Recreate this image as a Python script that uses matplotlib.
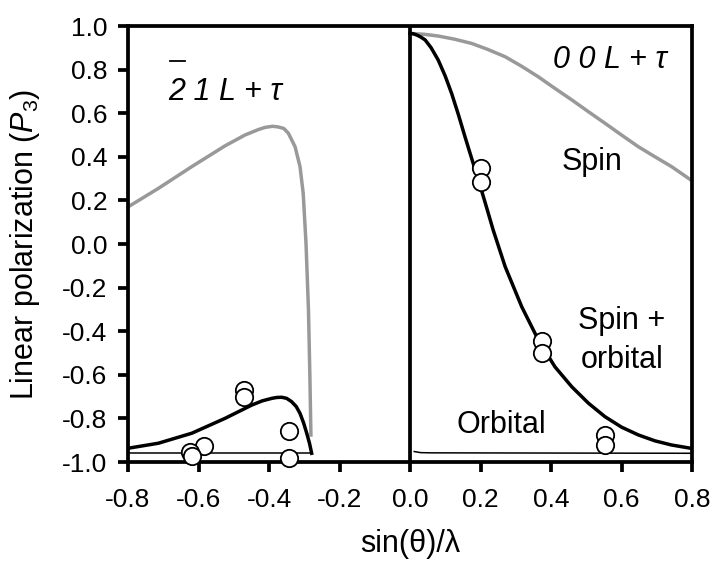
import numpy as np
import matplotlib
matplotlib.use("Agg")
import matplotlib.pyplot as plt
from matplotlib.transforms import offset_copy

plt.rcParams['font.family'] = ['Liberation Sans', 'DejaVu Sans']
plt.rcParams['mathtext.fontset'] = 'custom'
plt.rcParams['mathtext.rm'] = 'Liberation Sans'
plt.rcParams['mathtext.it'] = 'Liberation Sans:italic'
plt.rcParams['axes.unicode_minus'] = False

# -2 1 L + tau reflection (negative side)
left_spin_x = [-0.8, -0.714, -0.619, -0.525, -0.468, -0.43, -0.411, -0.39, -0.374, -0.358, -0.345, -0.326,
               -0.312, -0.303, -0.295, -0.288, -0.284, -0.281]
left_spin_y = [0.17, 0.255, 0.355, 0.45, 0.50, 0.525, 0.535, 0.54, 0.537, 0.53, 0.508, 0.446,
               0.355, 0.233, 0.003, -0.303, -0.609, -0.884]

left_so_x = [-0.8, -0.714, -0.619, -0.525, -0.449, -0.42, -0.392, -0.378, -0.364, -0.35, -0.336, -0.323,
             -0.312, -0.302, -0.293, -0.285, -0.279]
left_so_y = [-0.937, -0.914, -0.868, -0.80, -0.739, -0.72, -0.708, -0.704, -0.703, -0.708, -0.723, -0.745,
             -0.777, -0.82, -0.868, -0.915, -0.96]

left_orb_x = [-0.8, -0.279]
left_orb_y = [-0.96, -0.96]

left_pts_x = [-0.47, -0.47, -0.584, -0.624, -0.619, -0.343, -0.343]
left_pts_y = [-0.67, -0.703, -0.927, -0.953, -0.972, -0.858, -0.983]

# 0 0 L + tau reflection (positive side)
right_spin_x = [0.0, 0.04, 0.08, 0.125, 0.175, 0.22, 0.27, 0.317, 0.364, 0.41, 0.459, 0.506, 0.553, 0.6,
                0.648, 0.695, 0.742, 0.8]
right_spin_y = [0.966, 0.962, 0.954, 0.94, 0.92, 0.893, 0.859, 0.815, 0.767, 0.715, 0.661, 0.607, 0.554,
                0.50, 0.446, 0.40, 0.355, 0.29]

right_so_x = [0.0, 0.01, 0.02, 0.03, 0.043, 0.06, 0.08, 0.1, 0.118, 0.137, 0.156, 0.175, 0.194, 0.215, 0.236,
              0.27, 0.317, 0.364, 0.411, 0.459, 0.506, 0.553, 0.6, 0.648, 0.695, 0.742, 0.8]
right_so_y = [0.966, 0.964, 0.958, 0.95, 0.936, 0.9, 0.844, 0.77, 0.691, 0.595, 0.492, 0.392, 0.294, 0.18, 0.064,
              -0.104, -0.288, -0.44, -0.563, -0.655, -0.73, -0.792, -0.84, -0.876, -0.903, -0.922, -0.938]

right_orb_x = [0.012, 0.03, 0.06, 0.8]
right_orb_y = [-0.952, -0.957, -0.958, -0.96]

right_pts_x = [0.201, 0.201, 0.375, 0.374, 0.553, 0.553]
right_pts_y = [0.347, 0.286, -0.445, -0.499, -0.876, -0.922]

x_ticks = [-0.8, -0.6, -0.4, -0.2, 0.0, 0.2, 0.4, 0.6, 0.8]
y_ticks = [1.0, 0.8, 0.6, 0.4, 0.2, 0.0, -0.2, -0.4, -0.6, -0.8, -1.0]

gray = '#999999'

fig = plt.figure(figsize=(7.14, 5.64), dpi=100)
ax = fig.add_axes([128 / 714, 1 - 462 / 564, 564 / 714, 436 / 564])

ax.plot(left_spin_x, left_spin_y, color=gray, lw=2.5, solid_capstyle='butt', solid_joinstyle='round')
ax.plot(right_spin_x, right_spin_y, color=gray, lw=2.5, solid_capstyle='butt', solid_joinstyle='round')
ax.plot(left_orb_x, left_orb_y, color='black', lw=1.1)
ax.plot(right_orb_x, right_orb_y, color='black', lw=1.1)
ax.plot(left_so_x, left_so_y, color='black', lw=2.5, solid_joinstyle='round')
ax.plot(right_so_x, right_so_y, color='black', lw=2.5, solid_joinstyle='round')
ax.axvline(0.0, color='black', lw=2.7)

ax.plot(left_pts_x, left_pts_y, 'o', ms=12.5, mfc='white', mec='black', mew=1.3, clip_on=False, zorder=5)
ax.plot(right_pts_x, right_pts_y, 'o', ms=12.5, mfc='white', mec='black', mew=1.3, clip_on=False, zorder=5)

ax.set_xlim(-0.8, 0.8)
ax.set_ylim(-1.0, 1.0)
ax.set_xticks(x_ticks)
ax.set_xticklabels(['%.1f' % v for v in x_ticks])
ax.set_yticks(y_ticks)
ax.set_yticklabels(['%.1f' % v for v in y_ticks])
for s in ax.spines.values():
    s.set_linewidth(2.7)
ax.tick_params(direction='out', length=7, width=2.7, labelsize=19)
ax.tick_params(axis='x', pad=12)
ax.tick_params(axis='y', pad=8)

ax.set_xlabel('sin(θ)/λ', fontsize=22, labelpad=12)
ax.set_ylabel(r'Linear polarization ($\mathit{P}_3$)', fontsize=22, labelpad=14)

# panel labels; the bar over the 2 is drawn as a short line above it
ax.text(-0.687, 0.66, '2 1 L + τ', fontsize=22, fontstyle='italic', ha='left', va='baseline')
bar_tr = offset_copy(ax.transData, fig=fig, x=1, y=28, units='points')
ax.plot([-0.684, -0.641], [0.66, 0.66], color='black', lw=1.3, transform=bar_tr, clip_on=False)
ax.text(0.729, 0.807, '0 0 L + τ', fontsize=22, fontstyle='italic', ha='right', va='baseline')
ax.text(0.516, 0.339, 'Spin', fontsize=22, ha='center', va='baseline')
ax.text(0.601, -0.39, 'Spin +', fontsize=22, ha='center', va='baseline')
ax.text(0.601, -0.569, 'orbital', fontsize=22, ha='center', va='baseline')
ax.text(0.258, -0.867, 'Orbital', fontsize=22, ha='center', va='baseline')

fig.savefig('out.png', dpi=100)
